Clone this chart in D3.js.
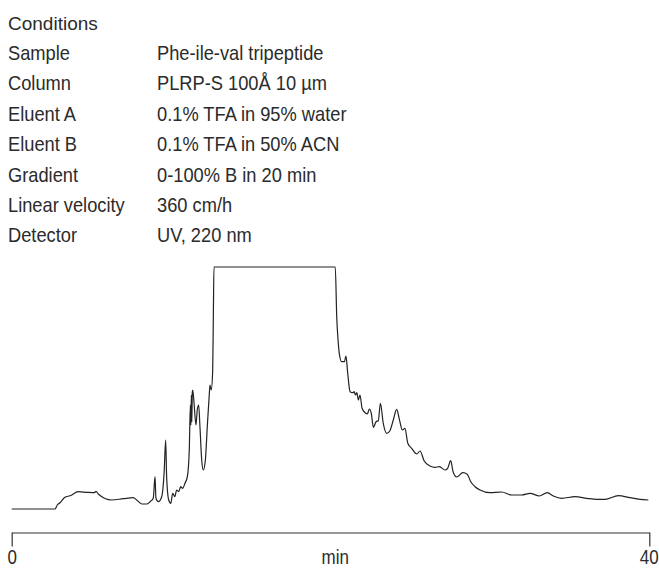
<!DOCTYPE html>
<html>
<head>
<meta charset="utf-8">
<script src="https://cdn.jsdelivr.net/npm/d3@7"></script>
<style>
    body { margin: 0; background: #fff; }
    svg { display: block; }
    .cond { font-family: "Liberation Sans", Arial, sans-serif; font-size: 21px; fill: #2b2b2b; }
    .title { font-family: "Liberation Sans", Arial, sans-serif; font-size: 19px; fill: #2b2b2b; }
    .axis text { font-family: "Liberation Sans", Arial, sans-serif; font-size: 19.5px; fill: #2b2b2b; }
</style>
</head>
<body>
<svg width="659" height="569"></svg>
<script>
// conditions block
var conditionTitle = "Conditions";
var conditionLabels = ["Sample", "Column", "Eluent A", "Eluent B", "Gradient", "Linear velocity", "Detector"];
var conditionValues = ["Phe-ile-val tripeptide", "PLRP-S 100Å 10 µm", "0.1% TFA in 95% water",
    "0.1% TFA in 50% ACN", "0-100% B in 20 min", "360 cm/h", "UV, 220 nm"];

// x axis
var tickValues = [0, 40];
var axisTitle = "min";

// trace (detector response in arbitrary units, 242 = off scale)
var timeMin = [0, 2.72, 2.86, 3.03, 3.34, 3.66, 4.18, 4.71, 5.18, 5.29, 5.43, 6.27, 7.00, 7.63, 7.84,
    8.16, 8.47, 8.68, 8.88, 8.99, 9.05, 9.20, 9.41, 9.56, 9.66, 9.72, 9.85, 9.98, 10.10, 10.23,
    10.35, 10.48, 10.60, 10.73, 10.87, 11.02, 11.14, 11.21, 11.24, 11.27, 11.30, 11.33, 11.36, 11.44,
    11.56, 11.64, 11.73, 11.81, 11.92, 12.02, 12.15, 12.27, 12.40, 12.44, 12.52, 12.61, 12.65, 12.69,
    20.30, 20.39, 20.49, 20.55, 20.70, 20.87, 20.97, 21.08, 21.23, 21.39, 21.49, 21.56, 21.65, 21.75,
    21.85, 21.98, 22.17, 22.31, 22.44, 22.56, 22.69, 22.86, 23.00, 23.13, 23.31, 23.53, 23.73, 23.94,
    24.15, 24.32, 24.51, 24.67, 24.85, 25.09, 25.41, 25.62, 25.87, 26.24, 26.56, 26.83, 27.19, 27.35,
    27.54, 27.69, 27.92, 28.30, 28.58, 28.80, 29.07, 29.38, 30.01, 30.74, 31.37, 32.00, 32.52, 33.10,
    33.60, 33.98, 34.51, 35.34, 36.08, 36.70, 37.22, 38.06, 38.79, 39.42, 39.94];
var signal = [0, 0, 4, 6.3, 11.7, 13.3, 17.3, 16.7, 16.3, 17.7, 15, 9, 10.3, 11.3, 9,
    5, 5, 7.3, 10.7, 32.3, 10.7, 7.3, 12.3, 35.7, 69, 32.3, 9, 5.7, 15.7, 12.3,
    19, 17.3, 22.3, 20.7, 25.7, 32.3, 59, 104, 84, 114, 87, 117, 119, 105.7,
    84, 99, 104, 82.3, 49, 39, 49, 82.3, 115.7, 124, 119, 139, 192.3, 242,
    242, 192.3, 165.7, 155.7, 147.3, 147.3, 153, 135.7, 117.3, 116.3, 117.3, 114, 116.3, 109,
    114, 100.7, 96.3, 95, 100, 95.7, 81.7, 87.3, 88.3, 105.7, 85.7, 75.7, 78.3, 89,
    99.7, 89.7, 79, 80.7, 65.7, 60.7, 55, 58, 48.3, 43, 41.7, 42.3, 39, 40.7,
    48.3, 37.3, 32, 36.3, 34.7, 27.3, 22.3, 19, 16.3, 17, 14, 14, 15.7, 13,
    16.3, 13, 10.7, 12.3, 10.7, 9.7, 9.7, 13.3, 11.3, 9.7, 9];

var svg = d3.select("svg");

var x = d3.scaleLinear().domain([0, 40]).range([11.7, 649.3]);
var y = d3.scaleLinear().domain([0, 242]).range([509, 267]);

// the original uses a condensed face, so squeeze the sans a bit
var narrow = 0.87;

// text block
svg.append("text").attr("class", "title").attr("x", 8).attr("y", 29.5).text(conditionTitle);
var rows = svg.append("g").selectAll("g")
    .data(conditionLabels)
    .enter().append("g")
    .attr("transform", function(d, i) { return "translate(0," + (60 + i * 30.4) + ")"; });
rows.append("text").attr("class", "cond")
    .attr("transform", "translate(8,0) scale(" + narrow + ",1)")
    .text(function(d) { return d; });
rows.append("text").attr("class", "cond")
    .attr("transform", "translate(157,0) scale(" + narrow + ",1)")
    .text(function(d, i) { return conditionValues[i]; });

// chromatogram
var pts = timeMin.map(function(t, i) { return [t, signal[i]]; });
var line = d3.line()
    .x(function(d) { return x(d[0]); })
    .y(function(d) { return y(d[1]); })
    .curve(d3.curveMonotoneX);

svg.append("path")
    .datum(pts)
    .attr("d", line)
    .attr("fill", "none")
    .attr("stroke", "#222")
    .attr("stroke-width", 1.2)
    .attr("stroke-linejoin", "round");

// axis: line with downward end ticks
var axis = svg.append("g")
    .attr("class", "axis")
    .attr("transform", "translate(0,532.5)")
    .call(d3.axisBottom(x).tickValues(tickValues).tickSize(14).tickSizeOuter(0).tickFormat(d3.format("d")));
axis.select(".domain").attr("stroke", "#333").attr("stroke-width", 1.2);
axis.selectAll(".tick line").attr("stroke", "#333").attr("stroke-width", 1.2);
axis.selectAll(".tick text")
    .attr("y", null).attr("dy", null)
    .attr("transform", function(d) {
        var dx = d === 40 ? -0.5 : 0;
        return "translate(" + dx + ",31.5) scale(" + narrow + ",1)";
    });

axis.append("text")
    .attr("text-anchor", "middle")
    .attr("transform", "translate(" + x(20.3) + ",31.5) scale(" + narrow + ",1)")
    .text(axisTitle);
</script>
</body>
</html>
